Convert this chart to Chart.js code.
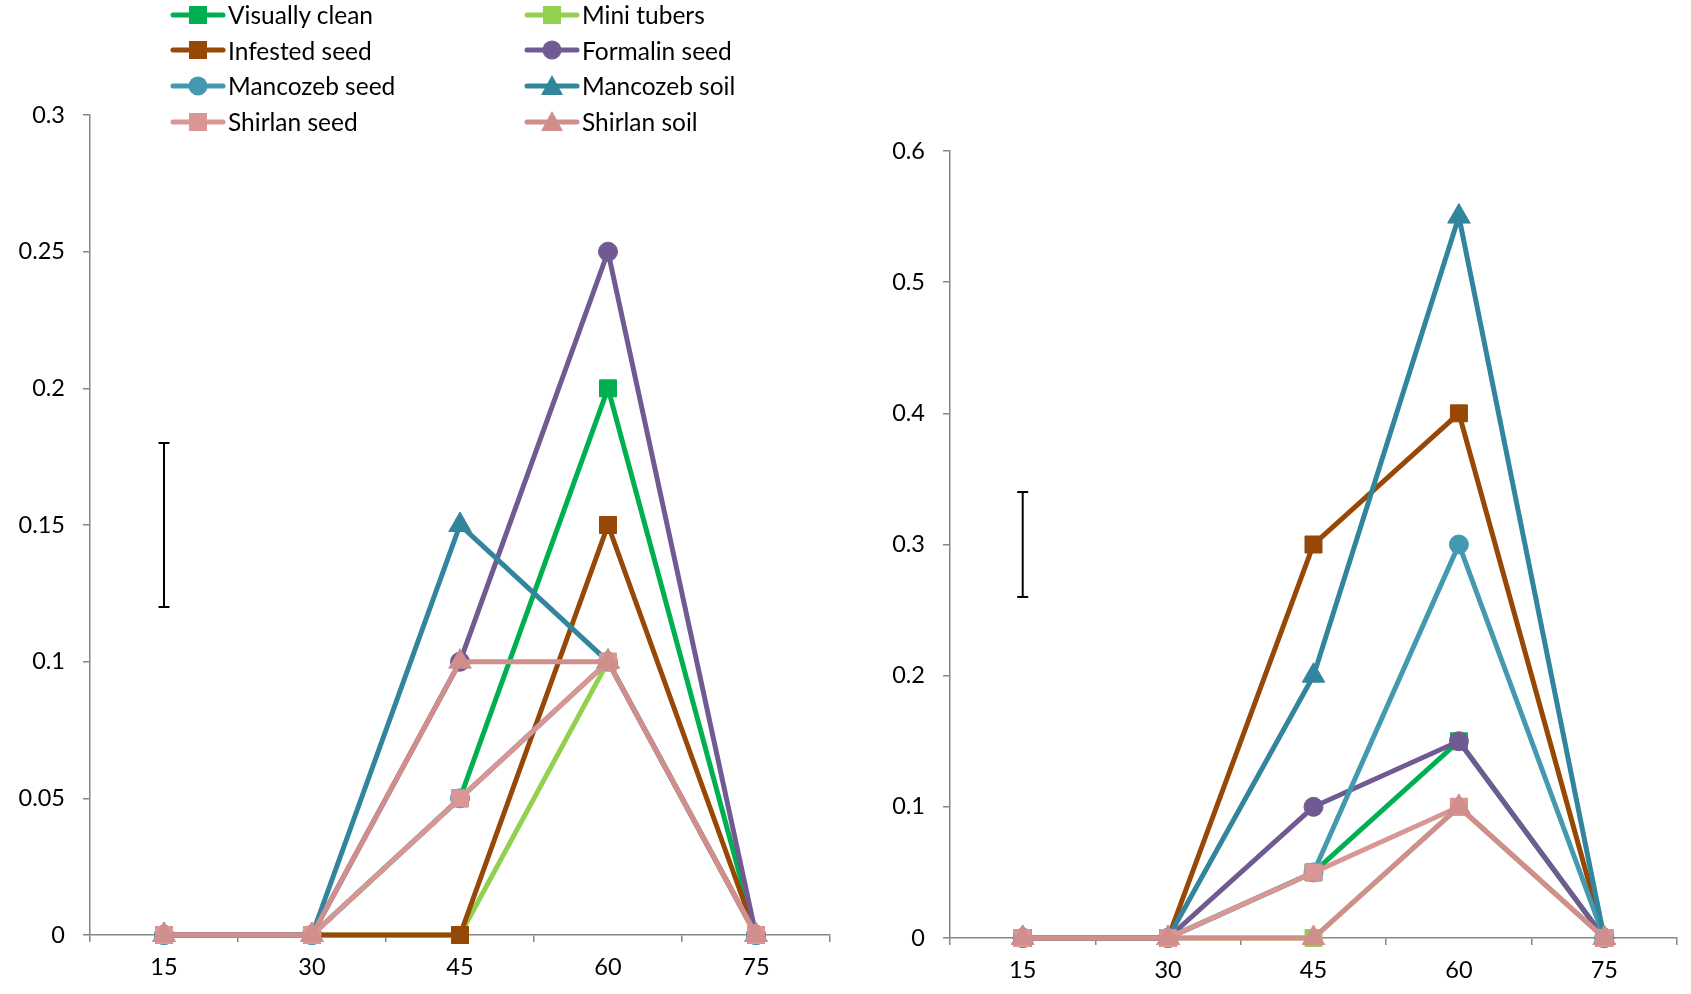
<!DOCTYPE html>
<html>
<head>
<meta charset="utf-8">
<script src="https://cdn.jsdelivr.net/npm/chart.js@4.4.1/dist/chart.umd.min.js"></script>
<style>
    html, body { margin: 0; padding: 0; background: #fff; }
    body { width: 1691px; height: 994px; position: relative; overflow: hidden; font-family: Lato, 'Open Sans', sans-serif; }
    .box { position: absolute; }
    #leftBox { left: 0; top: 0; width: 860px; height: 994px; }
    #rightBox { left: 870px; top: 0; width: 821px; height: 994px; }
    #legend {
        position: absolute; left: 170px; top: -3px;
        display: grid; grid-template-columns: 354px 354px; grid-auto-rows: 35.6px;
        font-size: 24.5px; color: #000;
    }
    .item { display: flex; align-items: center; white-space: nowrap; }
    .item svg { margin-right: 2px; }
</style>
</head>
<body>
<div id="leftBox" class="box"><canvas id="leftChart"></canvas></div>
<div id="rightBox" class="box"><canvas id="rightChart"></canvas></div>
<div id="legend"></div>
<script>
// 조사 시기 (days)
const days = ['15', '30', '45', '60', '75'];

// 처리구 이름 / 색 / 마커
const seriesNames = ['Visually clean', 'Mini tubers', 'Infested seed', 'Formalin seed',
    'Mancozeb seed', 'Mancozeb soil', 'Shirlan seed', 'Shirlan soil'];
const seriesColors = ['#00B050', '#92D050', '#974706', '#705A91',
    '#4499B1', '#31859C', '#D99694', '#D08E8C'];
const seriesMarkers = ['rect', 'rect', 'rect', 'circle', 'circle', 'triangle', 'rect', 'triangle'];

// 왼쪽 그래프 값
const leftVisuallyClean = [0, 0, 0.05, 0.2, 0];
const leftMiniTubers = [0, 0, 0, 0.1, 0];
const leftInfestedSeed = [0, 0, 0, 0.15, 0];
const leftFormalinSeed = [0, 0, 0.1, 0.25, 0];
const leftMancozebSeed = [0, 0, 0.05, 0.1, 0];
const leftMancozebSoil = [0, 0, 0.15, 0.1, 0];
const leftShirlanSeed = [0, 0, 0.05, 0.1, 0];
const leftShirlanSoil = [0, 0, 0.1, 0.1, 0];
const leftErrorBar = [0.12, 0.18];

// 오른쪽 그래프 값
const rightVisuallyClean = [0, 0, 0.05, 0.15, 0];
const rightMiniTubers = [0, 0, 0, 0.1, 0];
const rightInfestedSeed = [0, 0, 0.3, 0.4, 0];
const rightFormalinSeed = [0, 0, 0.1, 0.15, 0];
const rightMancozebSeed = [0, 0, 0.05, 0.3, 0];
const rightMancozebSoil = [0, 0, 0.2, 0.55, 0];
const rightShirlanSeed = [0, 0, 0.05, 0.1, 0];
const rightShirlanSoil = [0, 0, 0, 0.1, 0];
const rightErrorBar = [0.26, 0.34];

// 축 범위
const leftMax = 0.3, leftStep = 0.05;
const rightMax = 0.6, rightStep = 0.1;

Chart.defaults.font.family = 'Lato, "Open Sans", sans-serif';
Chart.defaults.font.size = 23.5;
Chart.defaults.color = '#000';

const markerRadius = { rect: 12, circle: 9.5, triangle: 13 };

function buildDatasets(seriesValues, errorBar) {
    const n = seriesValues.length;
    const sets = seriesValues.map((values, i) => ({
        label: seriesNames[i],
        data: values,
        borderColor: seriesColors[i],
        backgroundColor: seriesColors[i],
        pointBackgroundColor: seriesColors[i],
        pointBorderColor: seriesColors[i],
        borderWidth: 5,
        pointStyle: seriesMarkers[i],
        pointRadius: markerRadius[seriesMarkers[i]],
        pointBorderWidth: 1,
        tension: 0,
        clip: false,
        order: n - i // 엑셀처럼 마지막 계열이 위에
    }));
    // LSD 막대
    sets.push({
        label: 'LSD',
        data: errorBar.map(v => ({ x: days[0], y: v })),
        borderColor: '#000',
        borderWidth: 2,
        pointStyle: 'line',
        pointRadius: 5.5,
        pointBorderWidth: 2,
        pointBorderColor: '#000',
        clip: false,
        order: 0
    });
    return sets;
}

function makeChart(canvas, datasets, maxY, step, pad, yWidth) {
    return new Chart(canvas.getContext('2d'), {
        type: 'line',
        data: { labels: days, datasets },
        options: {
            responsive: true,
            maintainAspectRatio: false,
            animation: false,
            layout: { padding: pad },
            plugins: { legend: { display: false }, tooltip: { enabled: false } },
            scales: {
                x: {
                    type: 'category',
                    offset: true,
                    grid: { offset: true, drawOnChartArea: false, drawTicks: true, tickLength: 7, color: '#868686', lineWidth: 1.5 },
                    border: { color: '#868686', width: 1.5 },
                    ticks: { padding: 11, maxRotation: 0 },
                    afterFit: (s) => { s.height = 50; }
                },
                y: {
                    min: 0,
                    max: maxY,
                    grid: { drawOnChartArea: false, drawTicks: true, tickLength: 7, color: '#868686', lineWidth: 1.5 },
                    border: { color: '#868686', width: 1.5 },
                    ticks: {
                        stepSize: step,
                        padding: 18,
                        callback: (v) => String(+v.toFixed(2)) // 0.30 -> 0.3
                    },
                    afterFit: (s) => { s.width = yWidth; }
                }
            }
        }
    });
}

const leftChart = makeChart(
    document.getElementById('leftChart'),
    buildDatasets([leftVisuallyClean, leftMiniTubers, leftInfestedSeed, leftFormalinSeed,
        leftMancozebSeed, leftMancozebSoil, leftShirlanSeed, leftShirlanSoil], leftErrorBar),
    leftMax, leftStep,
    { top: 115, bottom: 9, left: 0, right: 30 }, 90
);

const rightChart = makeChart(
    document.getElementById('rightChart'),
    buildDatasets([rightVisuallyClean, rightMiniTubers, rightInfestedSeed, rightFormalinSeed,
        rightMancozebSeed, rightMancozebSoil, rightShirlanSeed, rightShirlanSoil], rightErrorBar),
    rightMax, rightStep,
    { top: 151, bottom: 6, left: 0, right: 13 }, 80
);

// 범례 (HTML)
const legendEl = document.getElementById('legend');
const svgNS = 'http://www.w3.org/2000/svg';
seriesNames.forEach((name, i) => {
    const item = document.createElement('div');
    item.className = 'item';
    const svg = document.createElementNS(svgNS, 'svg');
    svg.setAttribute('width', '56');
    svg.setAttribute('height', '26');
    const line = document.createElementNS(svgNS, 'line');
    line.setAttribute('x1', '3'); line.setAttribute('x2', '53');
    line.setAttribute('y1', '13'); line.setAttribute('y2', '13');
    line.setAttribute('stroke', seriesColors[i]);
    line.setAttribute('stroke-width', '5');
    line.setAttribute('stroke-linecap', 'round');
    svg.appendChild(line);
    let mark;
    if (seriesMarkers[i] === 'rect') {
        mark = document.createElementNS(svgNS, 'rect');
        mark.setAttribute('x', '19'); mark.setAttribute('y', '4');
        mark.setAttribute('width', '18'); mark.setAttribute('height', '18');
    } else if (seriesMarkers[i] === 'circle') {
        mark = document.createElementNS(svgNS, 'circle');
        mark.setAttribute('cx', '28'); mark.setAttribute('cy', '13'); mark.setAttribute('r', '9.5');
    } else {
        mark = document.createElementNS(svgNS, 'polygon');
        mark.setAttribute('points', '28,2 39,22 17,22');
    }
    mark.setAttribute('fill', seriesColors[i]);
    svg.appendChild(mark);
    item.appendChild(svg);
    const label = document.createElement('span');
    label.textContent = name;
    item.appendChild(label);
    legendEl.appendChild(item);
});
</script>
</body>
</html>
